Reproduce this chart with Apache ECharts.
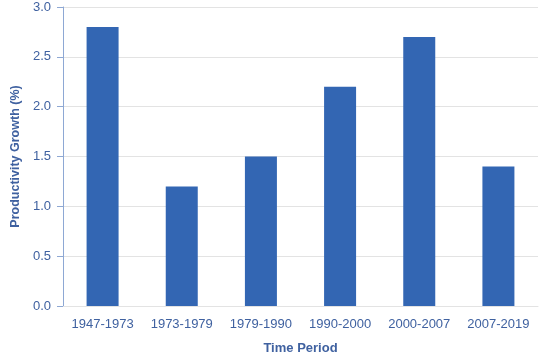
<!DOCTYPE html>
<html>
<head>
<meta charset="utf-8">
<script src="https://cdn.jsdelivr.net/npm/echarts@6/dist/echarts.min.js"></script>
<style>html,body{margin:0;padding:0;background:#fff;}#c{width:545px;height:360px;}</style>
</head>
<body>
<div id="c"></div>
<script>
const categories = ['1947-1973','1973-1979','1979-1990','1990-2000','2000-2007','2007-2019'];
const values = [2.8, 1.2, 1.5, 2.2, 2.7, 1.4];
const yTicks = {min: 0, max: 3, interval: 0.5};

const txt = '#3f61a0';
const chart = echarts.init(document.getElementById('c'));
chart.setOption({
  animation: false,
  grid: {left: 63, right: 7, top: 7, bottom: 54},
  xAxis: {
    type: 'category',
    data: categories,
    name: 'Time Period',
    nameLocation: 'middle',
    nameGap: 36,
    nameTextStyle: {color: txt, fontWeight: 'bold', fontSize: 13, fontFamily: 'Liberation Sans'},
    axisLine: {lineStyle: {color: '#e3e3e3'}},
    axisTick: {show: false},
    axisLabel: {color: txt, fontSize: 13, margin: 12, interval: 0, fontFamily: 'Liberation Sans'}
  },
  yAxis: {
    type: 'value',
    min: yTicks.min, max: yTicks.max, interval: yTicks.interval,
    name: 'Productivity Growth (%)',
    nameLocation: 'middle',
    nameGap: 41,
    nameTextStyle: {color: txt, fontWeight: 'bold', fontSize: 12.5, fontFamily: 'Liberation Sans'},
    axisLine: {show: true, lineStyle: {color: '#8ea8d4'}},
    axisTick: {show: true, length: 6, lineStyle: {color: '#8ea8d4'}},
    axisLabel: {color: txt, fontSize: 13, margin: 12, fontFamily: 'Liberation Sans', formatter: v => v.toFixed(1)},
    splitLine: {lineStyle: {color: '#e3e3e3'}}
  },
  series: [{
    type: 'bar',
    data: values,
    barWidth: 32,
    itemStyle: {color: '#3366b3'}
  }]
});
</script>
</body>
</html>
